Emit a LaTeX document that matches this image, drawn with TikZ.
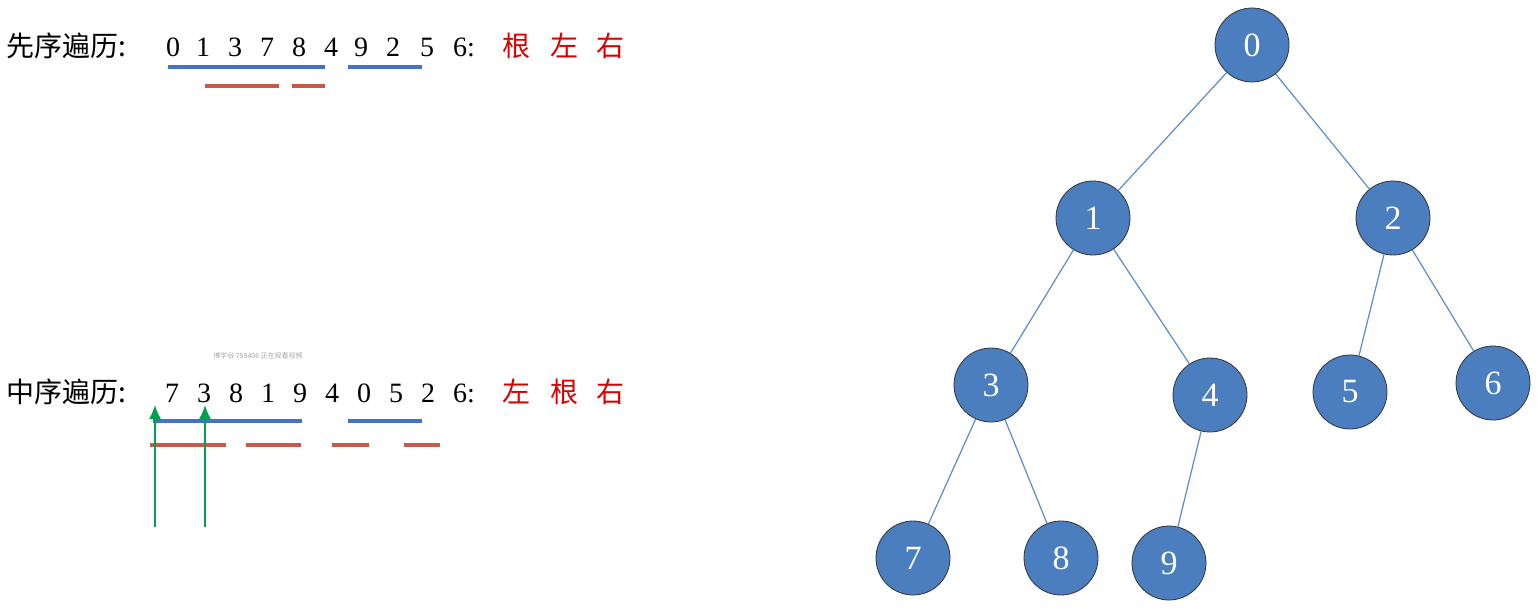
\documentclass[tikz,border=0pt]{standalone}
\usepackage{fontspec}
\usetikzlibrary{arrows.meta}
\newfontfamily\cjk{Noto Sans CJK SC}
\setmainfont{Liberation Serif}
\begin{document}
\begin{tikzpicture}[x=1pt,y=-1pt,
  tn/.style={circle,draw=black!80,line width=0.8pt,fill=nodeblue,minimum size=74pt,inner sep=0pt,text=white,font=\fontsize{34}{40}\selectfont},
  edge/.style={draw=edgeblue,line width=1.2pt},
  dg/.style={font=\fontsize{28}{34}\selectfont,anchor=base},
  lbl/.style={font=\cjk\fontsize{28}{34}\selectfont,anchor=base west},
  rd/.style={font=\cjk\fontsize{28}{34}\selectfont,anchor=base,text=red!85!black},
  bl/.style={draw=lineblue,line width=4pt},
  rl/.style={draw=linered,line width=4pt},
  gr/.style={draw=arrowgreen,line width=1.5pt,-{Latex[length=14pt,width=12pt]}}]
\definecolor{nodeblue}{HTML}{4A7EBF}
\definecolor{edgeblue}{HTML}{5B8CC8}
\definecolor{lineblue}{HTML}{4472C4}
\definecolor{linered}{HTML}{C55A4B}
\definecolor{arrowgreen}{HTML}{00A050}
\useasboundingbox (0,0) rectangle (1537,610);
% preorder
\node[lbl] (pl) at (3,57) {先序遍历:};
\foreach \d/\x [count=\i] in {0/173,1/203,3/235,7/267,8/299,4/331,9/361,2/393,5/427,6:/464}
  \node[dg] (p\i) at (\x,57) {\d};
\node[rd] (pr1) at (516,57) {根};
\node[rd] (pr2) at (564,57) {左};
\node[rd] (pr3) at (610,57) {右};
\coordinate (pa1) at (168,67); \coordinate (pb1) at (325,67);
\coordinate (pa2) at (348,67); \coordinate (pb2) at (422,67);
\coordinate (pc1) at (205,86); \coordinate (pd1) at (279,86);
\coordinate (pc2) at (292,86); \coordinate (pd2) at (325,86);
\draw[bl] (pa1)--(pb1); \draw[bl] (pa2)--(pb2);
\draw[rl] (pc1)--(pd1); \draw[rl] (pc2)--(pd2);
% inorder
\node[font=\cjk\fontsize{7}{8}\selectfont,text=black!35] (wm) at (258,356) {博学谷 759406 正在观看视频};
\node[lbl] (il) at (3,402) {中序遍历:};
\foreach \d/\x [count=\i] in {7/172,3/204,8/236,1/268,9/300,4/332,0/364,5/396,2/428,6:/464}
  \node[dg] (m\i) at (\x,402) {\d};
\node[rd] (ir1) at (516,402) {左};
\node[rd] (ir2) at (564,402) {根};
\node[rd] (ir3) at (610,402) {右};
\coordinate (ia1) at (153,421); \coordinate (ib1) at (302,421);
\coordinate (ia2) at (348,421); \coordinate (ib2) at (422,421);
\draw[bl] (ia1)--(ib1); \draw[bl] (ia2)--(ib2);
\foreach \a/\b [count=\i] in {150/226,246/301,332/369,404/440}{
  \coordinate (ic\i) at (\a,445); \coordinate (id\i) at (\b,445);
  \draw[rl] (ic\i)--(id\i);}
\coordinate (g1s) at (155,527); \coordinate (g1e) at (155,405);
\coordinate (g2s) at (205,527); \coordinate (g2e) at (205,405);
\draw[gr] (g1s)--(g1e); \draw[gr] (g2s)--(g2e);
% tree
\node[tn] (n0) at (1252,45) {0};
\node[tn] (n1) at (1093,218) {1};
\node[tn] (n2) at (1393,218) {2};
\node[tn] (n3) at (991,385) {3};
\node[tn] (n4) at (1210,395) {4};
\node[tn] (n5) at (1350,392) {5};
\node[tn] (n6) at (1493,383) {6};
\node[tn] (n7) at (913,558) {7};
\node[tn] (n8) at (1061,558) {8};
\node[tn] (n9) at (1169,563) {9};
\foreach \a/\b in {n0/n1,n0/n2,n1/n3,n1/n4,n2/n5,n2/n6,n3/n7,n3/n8,n4/n9}
  \draw[edge] (\a)--(\b);
\end{tikzpicture}
\end{document}
